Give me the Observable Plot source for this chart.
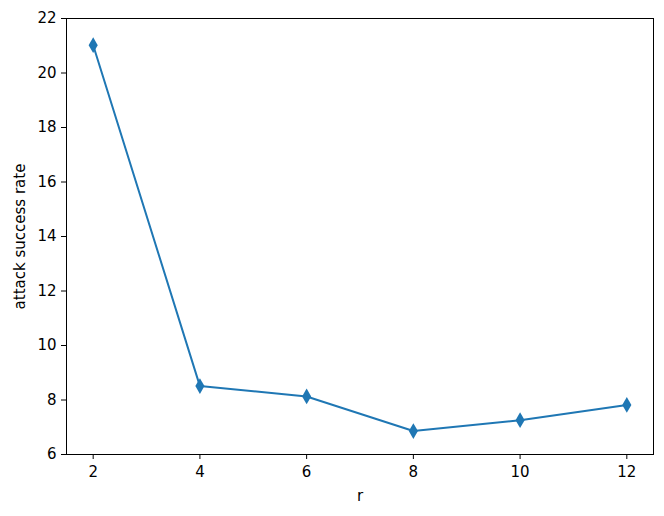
<!DOCTYPE html>
<html>
<head>
<meta charset="utf-8">
<script src="https://cdn.jsdelivr.net/npm/d3@7"></script>
<script src="https://cdn.jsdelivr.net/npm/@observablehq/plot@0.6"></script>
<style>
html, body { margin: 0; padding: 0; background: #fff; }
#chart svg text { font-family: "DejaVu Sans", sans-serif; font-size: 15px; fill: #000; }
</style>
</head>
<body>
<div id="chart"></div>
<script>
const rValues = [2, 4, 6, 8, 10, 12];
const successRate = [21.02, 8.51, 8.13, 6.86, 7.26, 7.82];
const xTicks = [2, 4, 6, 8, 10, 12];
const yTicks = [6, 8, 10, 12, 14, 16, 18, 20, 22];

const data = rValues.map((r, i) => ({ r, v: successRate[i] }));
const color = "#1f77b4";

const chart = Plot.plot({
  width: 664,
  height: 516,
  marginLeft: 66,
  marginRight: 11,
  marginTop: 18,
  marginBottom: 62,
  style: { fontFamily: "DejaVu Sans", fontSize: "15px", color: "#000", background: "#fff" },
  x: { domain: [1.5, 12.5] },
  y: { domain: [6, 22] },
  marks: [
    Plot.axisX({ ticks: xTicks, tickSize: 5, tickPadding: 7, tickFormat: d => String(d), label: "r", labelAnchor: "center", labelArrow: "none", labelOffset: 46, fontSize: 15 }),
    Plot.axisY({ ticks: yTicks, tickSize: 5, tickPadding: 5, tickFormat: d => String(d), label: "attack success rate", labelAnchor: "center", labelArrow: "none", labelOffset: 52, fontSize: 15 }),
    Plot.line(data, { x: "r", y: "v", stroke: color, strokeWidth: 2 }),
    Plot.dot(data, { x: "r", y: "v", symbol: "diamond", r: 4.8, fill: color, stroke: "none" }),
    Plot.frame({ stroke: "#000", strokeWidth: 1 })
  ]
});
document.getElementById("chart").appendChild(chart);
</script>
</body>
</html>
